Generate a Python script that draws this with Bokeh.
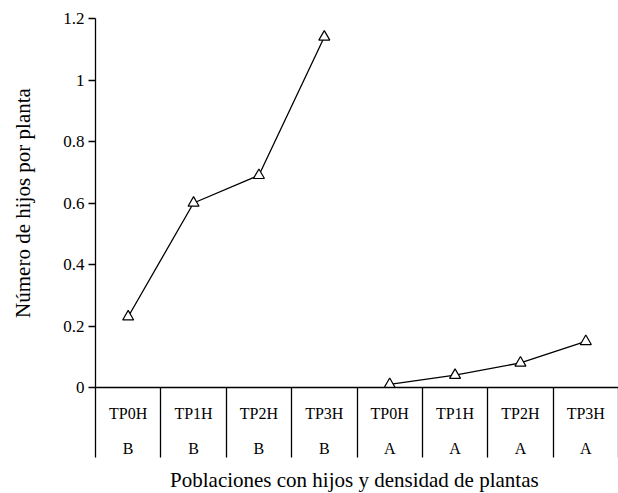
from bokeh.plotting import figure
from bokeh.models import Range1d, FixedTicker
from bokeh.embed import file_html
from bokeh.resources import INLINE

# ---- data ----
categories = ["TP0H", "TP1H", "TP2H", "TP3H", "TP0H", "TP1H", "TP2H", "TP3H"]
groups = ["B", "B", "B", "B", "A", "A", "A", "A"]
series_b_values = [0.23, 0.60, 0.69, 1.14]
series_a_values = [0.01, 0.04, 0.08, 0.15]
y_ticks = [0, 0.2, 0.4, 0.6, 0.8, 1.0, 1.2]
y_tick_labels = ["0", "0.2", "0.4", "0.6", "0.8", "1", "1.2"]

FONT = "Liberation Serif"
n = len(categories)
centers = [i + 0.5 for i in range(n)]
bounds = list(range(0, n + 1))

p = figure(frame_width=523, frame_height=369, output_backend="svg", toolbar_location=None,
           x_range=Range1d(0, n), y_range=Range1d(0, 1.2),
           min_border_left=95, min_border_right=0, min_border_top=18,
           min_border_bottom=0)
p.outline_line_color = None
p.xgrid.visible = False
p.ygrid.visible = False
p.background_fill_color = "white"
p.border_fill_color = "white"

# y axis
p.yaxis.ticker = FixedTicker(ticks=y_ticks)
p.yaxis.major_label_overrides = {t: l for t, l in zip(y_ticks, y_tick_labels)}
p.yaxis.minor_tick_line_color = None
p.yaxis.major_tick_out = 7
p.yaxis.major_tick_in = 0
p.yaxis.axis_line_color = "black"
p.yaxis.axis_line_width = 1.3
p.yaxis.major_tick_line_color = "black"
p.yaxis.major_tick_line_width = 1.3
p.yaxis.major_label_text_font = FONT
p.yaxis.major_label_text_font_size = "17px"
p.yaxis.major_label_text_color = "black"
p.yaxis.major_label_standoff = 4
p.yaxis.axis_label = "Número de hijos por planta"
p.yaxis.axis_label_text_font = FONT
p.yaxis.axis_label_text_font_style = "normal"
p.yaxis.axis_label_text_font_size = "21px"
p.yaxis.axis_label_text_color = "black"
p.yaxis.axis_label_standoff = 25

# x axis: category table (labels at centres, separators as long minor ticks)
p.xaxis.ticker = FixedTicker(ticks=centers, minor_ticks=bounds)
p.xaxis.major_label_overrides = {c: f"{cat}\n{grp}" for c, cat, grp in zip(centers, categories, groups)}
p.xaxis.axis_line_color = "black"
p.xaxis.axis_line_width = 1.3
p.xaxis.major_tick_line_color = None
p.xaxis.major_tick_out = 0
p.xaxis.major_tick_in = 0
p.xaxis.minor_tick_line_color = "black"
p.xaxis.minor_tick_line_width = 1.3
p.xaxis.minor_tick_out = 70
p.xaxis.minor_tick_in = 0
p.xaxis.major_label_text_font = FONT
p.xaxis.major_label_text_font_size = "16px"
p.xaxis.major_label_text_color = "black"
p.xaxis.major_label_text_line_height = 2.1
p.xaxis.major_label_standoff = -53
p.xaxis.axis_label = "Poblaciones con hijos y  densidad de plantas"
p.xaxis.axis_label_text_font = FONT
p.xaxis.axis_label_text_font_style = "normal"
p.xaxis.axis_label_text_font_size = "21px"
p.xaxis.axis_label_text_color = "black"
p.xaxis.axis_label_standoff = 8

# series
xb = centers[:4]
xa = centers[4:]
for xs, ys in ((xb, series_b_values), (xa, series_a_values)):
    p.line(xs, ys, line_color="black", line_width=1.3)
    p.scatter(xs, ys, marker="triangle", size=11, fill_color="white",
              line_color="black", line_width=1.2)

open("out.html", "w").write(file_html(p, INLINE))
